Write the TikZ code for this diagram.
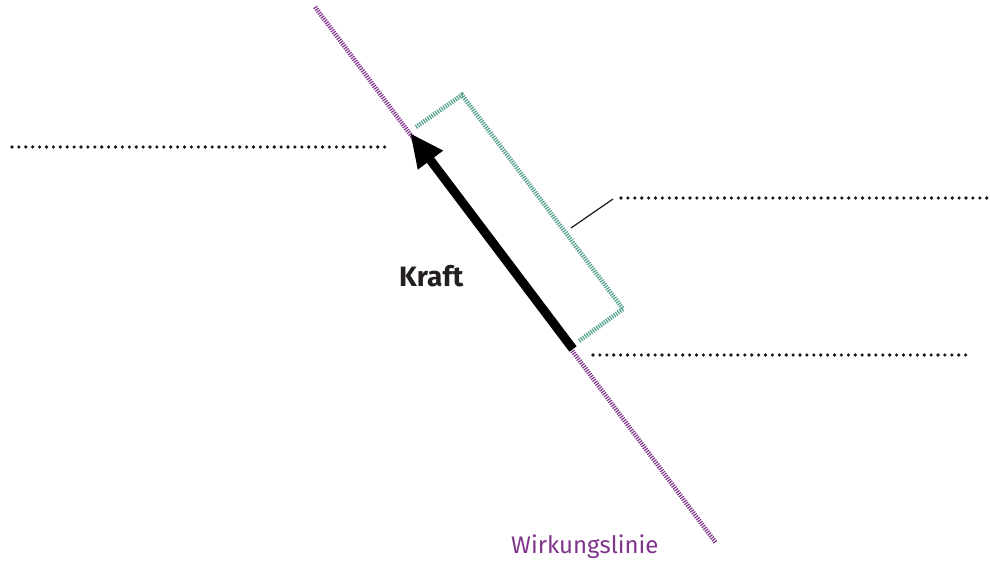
\documentclass[tikz,border=0pt]{standalone}
\usepackage{fontspec}
\setmainfont{Fira Sans}
\usetikzlibrary{arrows.meta}
\definecolor{wlpurple}{RGB}{128,52,140}
\definecolor{brgreen}{RGB}{80,160,140}
\definecolor{dotgray}{RGB}{25,25,25}
\definecolor{txtdark}{RGB}{35,31,32}
\tikzset{
  hatch/.style={line width=4.5pt, dash pattern=on 1.2pt off 1.2pt},
  dotline/.style={dotgray, line width=3.6pt, line cap=round, dash pattern=on 0pt off 6.9pt},
  forcearrow/.style={line width=9pt, -{Triangle[length=34pt,width=29pt]}, black},
}
\begin{document}
\begin{tikzpicture}[x=1pt,y=-1pt]
\useasboundingbox (0,0) rectangle (990,564);
% coordinates
\coordinate (wlA) at (315,7);
\coordinate (wlB) at (716,543);
\coordinate (fTail) at (573,349);
\coordinate (fTip) at (410,133);
\coordinate (b1) at (416,127);
\coordinate (b2) at (462,95);
\coordinate (b3) at (623,309);
\coordinate (b4) at (579,341);
\coordinate (lA) at (571,228);
\coordinate (lB) at (613,199);
\coordinate (d1a) at (12,147);
\coordinate (d1b) at (388,147);
\coordinate (d2a) at (621,198);
\coordinate (d2b) at (989,198);
\coordinate (d3a) at (593,355);
\coordinate (d3b) at (968,355);
% line of action
\draw[hatch, wlpurple] (wlA) -- (wlB);
% bracket
\draw[hatch, brgreen] (b1) -- (b2) -- (b3) -- (b4);
% leader
\draw[line width=1.2pt, dotgray] (lA) -- (lB);
% dotted lines
\draw[dotline] (d1a) -- (d1b);
\draw[dotline] (d2a) -- (d2b);
\draw[dotline] (d3a) -- (d3b);
% force arrow
\draw[forcearrow] (fTail) -- (fTip);
% labels
\node[anchor=base west, inner sep=0pt, font=\fontsize{28}{30}\selectfont\bfseries, text=txtdark] (kraft) at (399,286) {Kraft};
\node[anchor=base west, inner sep=0pt, font=\fontsize{24}{28}\selectfont, text=wlpurple] (wl) at (511,553) {Wirkungslinie};
\end{tikzpicture}
\end{document}
